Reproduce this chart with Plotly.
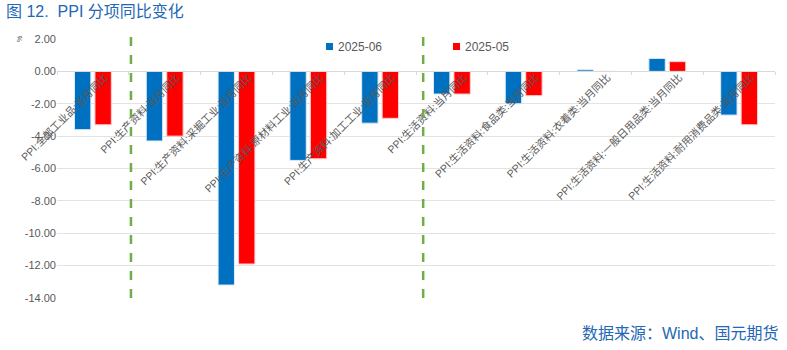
import plotly.graph_objects as go

categories = [
    "PPI:全部工业品:当月同比",
    "PPI:生产资料:当月同比",
    "PPI:生产资料:采掘工业:当月同比",
    "PPI:生产资料:原材料工业:当月同比",
    "PPI:生产资料:加工工业:当月同比",
    "PPI:生活资料:当月同比",
    "PPI:生活资料:食品类:当月同比",
    "PPI:生活资料:衣着类:当月同比",
    "PPI:生活资料:一般日用品类:当月同比",
    "PPI:生活资料:耐用消费品类:当月同比",
]
series_names = ["2025-06", "2025-05"]
values_jun = [-3.6, -4.3, -13.2, -5.5, -3.2, -1.4, -2.0, 0.1, 0.8, -2.7]
values_may = [-3.3, -4.0, -11.9, -5.4, -2.9, -1.4, -1.5, 0.0, 0.6, -3.3]
y_ticks = [2, 0, -2, -4, -6, -8, -10, -12, -14]
y_tick_text = ["%.2f" % v for v in y_ticks]
divider_positions = [0.53, 4.6]

FONT = "Liberation Sans, Noto Sans CJK SC, sans-serif"
GRAY = "#595959"
BLUE = "#0070C0"
RED = "#FF0000"
TITLE_BLUE = "#2367B5"
series_colors = [BLUE, RED]

ymin, ymax = -14, 2
PL, PR, PT, PB = 57, 12, 39, 52
PW, PH = 787 - PL - PR, 350 - PT - PB

def px_x(px):
    return (px - PL) / PW

def px_y(py):
    return (350 - PB - py) / PH

fig = go.Figure()
fig.add_trace(go.Bar(x=categories, y=values_jun, name=series_names[0], showlegend=False,
                     marker=dict(color=BLUE, line=dict(color="#DDEBF7", width=1))))
fig.add_trace(go.Bar(x=categories, y=values_may, name=series_names[1], showlegend=False,
                     marker=dict(color=RED, line=dict(color="#FFD0D0", width=1))))

n = len(categories)
for xp in divider_positions:
    xpaper = (xp + 0.5) / n
    fig.add_shape(type="line", xref="paper", yref="paper", x0=xpaper, x1=xpaper,
                  y0=0, y1=px_y(28),
                  line=dict(color="#70AD47", width=2.5, dash="dash"), layer="above")

# manual legend
legend_x = [326, 453]
for name, col, lx in zip(series_names, series_colors, legend_x):
    fig.add_shape(type="rect", xref="paper", yref="paper",
                  x0=px_x(lx), x1=px_x(lx + 7), y0=px_y(50), y1=px_y(43),
                  fillcolor=col, line=dict(width=0))
    fig.add_annotation(text=name, xref="paper", yref="paper",
                       x=px_x(lx + 10), y=px_y(46.5), xanchor="left", yanchor="middle",
                       showarrow=False, font=dict(family=FONT, size=12, color=GRAY))

fig.add_annotation(text="图 12.  PPI 分项同比变化", xref="paper", yref="paper",
                   x=px_x(4), y=px_y(12), xanchor="left", yanchor="middle",
                   showarrow=False, font=dict(family=FONT, size=16, color=TITLE_BLUE))
fig.add_annotation(text="数据来源：Wind、国元期货", xref="paper", yref="paper",
                   x=px_x(780), y=px_y(333), xanchor="right", yanchor="middle",
                   showarrow=False, font=dict(family=FONT, size=16, color=TITLE_BLUE))
fig.add_annotation(text="%", xref="paper", yref="paper",
                   x=px_x(19), y=px_y(39), xanchor="center", yanchor="middle", textangle=-90,
                   showarrow=False, font=dict(family=FONT, size=7, color=GRAY))

fig.update_layout(
    width=787, height=350,
    margin=dict(l=PL, r=PR, t=PT, b=PB, autoexpand=False),
    plot_bgcolor="white", paper_bgcolor="white",
    barmode="group", bargap=0.43, bargroupgap=0.2,
    font=dict(family=FONT, color=GRAY, size=11),
    showlegend=False,
    xaxis=dict(type="category", anchor="free", position=(0 - ymin) / (ymax - ymin),
               automargin=False,
               tickangle=-45, showgrid=False, showline=True, linecolor="#D9D9D9",
               ticks="outside", tickson="boundaries", ticklen=3, tickcolor="#D9D9D9",
               ticklabelshift=12, ticklabelstandoff=-5,
               tickfont=dict(family=FONT, size=10.5, color=GRAY), range=[-0.5, 9.5]),
    yaxis=dict(range=[ymin, ymax], tickvals=y_ticks, ticktext=y_tick_text, automargin=False,
               showgrid=True, gridcolor="#E3E3E3", gridwidth=1, zeroline=False,
               tickfont=dict(family=FONT, size=11, color=GRAY), ticks="", showline=False),
)

fig.write_html("out.html")
